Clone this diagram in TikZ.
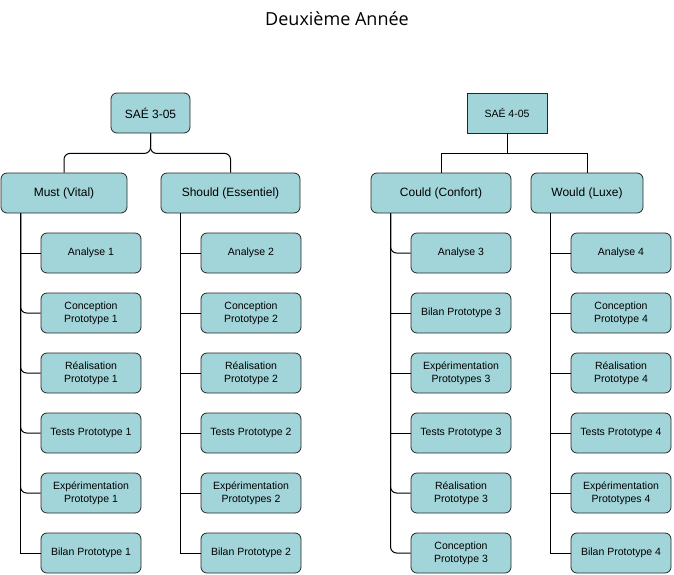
\documentclass[tikz,border=0pt]{standalone}
\usepackage{fontspec}
\setmainfont{Liberation Sans}
\newfontfamily\titlefont{Open Sans}
\usetikzlibrary{calc}
\definecolor{boxfill}{RGB}{162,213,217}
\begin{document}
\begin{tikzpicture}[x=1pt,y=-1pt,
  box/.style={draw=black!85, fill=boxfill, rounded corners=6pt, minimum width=100pt, minimum height=40pt, align=center, inner sep=0pt, font=\fontsize{10.5}{13}\selectfont, line width=0.8pt},
  top/.style={box, font=\fontsize{12}{14}\selectfont},
  link/.style={draw=black, line width=1pt},
  rlink/.style={link, rounded corners=6pt}]
\useasboundingbox (0,0) rectangle (674,574);
\node[font=\titlefont\fontsize{18}{20}\selectfont] (title) at (337,19) {Deuxième Année};

\node[top, minimum width=79pt] (s3) at (150.5,113) {SAÉ 3-05};
\node[box, rounded corners=0pt, minimum width=80pt] (s4) at (507,113) {SAÉ 4-05};

\node[top, minimum width=126pt] (must) at (64,193) {Must (Vital)};
\node[top, minimum width=139pt] (should) at (230.5,193) {Should (Essentiel)};
\node[top, minimum width=140pt] (could) at (441,193) {Could (Confort)};
\node[top, minimum width=112pt] (would) at (587,193) {Would (Luxe)};

% column 1
\node[box] (a1) at (91,253) {Analyse 1};
\node[box] (c1) at (91,313) {Conception\\Prototype 1};
\node[box] (r1) at (91,373) {Réalisation\\Prototype 1};
\node[box] (t1) at (91,433) {Tests Prototype 1};
\node[box] (e1) at (91,493) {Expérimentation\\Prototype 1};
\node[box] (b1) at (91,553) {Bilan Prototype 1};
% column 2
\node[box] (a2) at (251,253) {Analyse 2};
\node[box] (c2) at (251,313) {Conception\\Prototype 2};
\node[box] (r2) at (251,373) {Réalisation\\Prototype 2};
\node[box] (t2) at (251,433) {Tests Prototype 2};
\node[box] (e2) at (251,493) {Expérimentation\\Prototypes 2};
\node[box] (b2) at (251,553) {Bilan Prototype 2};
% column 3
\node[box] (a3) at (461,253) {Analyse 3};
\node[box] (bl3) at (461,313) {Bilan Prototype 3};
\node[box] (e3) at (461,373) {Expérimentation\\Prototypes 3};
\node[box] (t3) at (461,433) {Tests Prototype 3};
\node[box] (r3) at (461,493) {Réalisation\\Prototype 3};
\node[box] (c3) at (461,553) {Conception\\Prototype 3};
% column 4
\node[box] (a4) at (621,253) {Analyse 4};
\node[box] (c4) at (621,313) {Conception\\Prototype 4};
\node[box] (r4) at (621,373) {Réalisation\\Prototype 4};
\node[box] (t4) at (621,433) {Tests Prototype 4};
\node[box] (e4) at (621,493) {Expérimentation\\Prototypes 4};
\node[box] (b4) at (621,553) {Bilan Prototype 4};

% top connectors
\draw[rlink] (s3.south) -- ++(0,20) -| (must.north);
\draw[rlink] (s3.south) -- ++(0,20) -| (should.north);
\draw[link] (s4.south) -- ++(0,20) -| (could.north);
\draw[link] (s4.south) -- ++(0,20) -| (would.north);

% side coordinates
\coordinate (p1) at ($(must.south west)+(20,0)$);
\coordinate (p2) at ($(should.south west)+(20,0)$);
\coordinate (p3) at ($(could.south west)+(20,0)$);
\coordinate (p4) at ($(would.south west)+(20,0)$);

% column 1 links
\draw[link] (p1) |- (a1.west);
\draw[rlink] (p1) |- (c1.west);
\draw[rlink] (p1) |- (r1.west);
\draw[rlink] (p1) |- (t1.west);
\draw[rlink] (p1) |- (e1.west);
\draw[link] (p1) |- (b1.west);
% column 2 links
\draw[link] (p2) |- (a2.west);
\draw[link] (p2) |- (c2.west);
\draw[link] (p2) |- (r2.west);
\draw[link] (p2) |- (t2.west);
\draw[link] (p2) |- (e2.west);
\draw[link] (p2) |- (b2.west);
% column 3 links
\draw[rlink] (p3) |- (a3.west);
\draw[link] (p3) |- (bl3.west);
\draw[link] (p3) |- (e3.west);
\draw[link] (p3) |- (t3.west);
\draw[rlink] (p3) |- (r3.west);
\draw[rlink] (p3) |- (c3.west);
% column 4 links
\draw[link] (p4) |- (a4.west);
\draw[link] (p4) |- (c4.west);
\draw[link] (p4) |- (r4.west);
\draw[link] (p4) |- (t4.west);
\draw[link] (p4) |- (e4.west);
\draw[link] (p4) |- (b4.west);
\end{tikzpicture}
\end{document}
